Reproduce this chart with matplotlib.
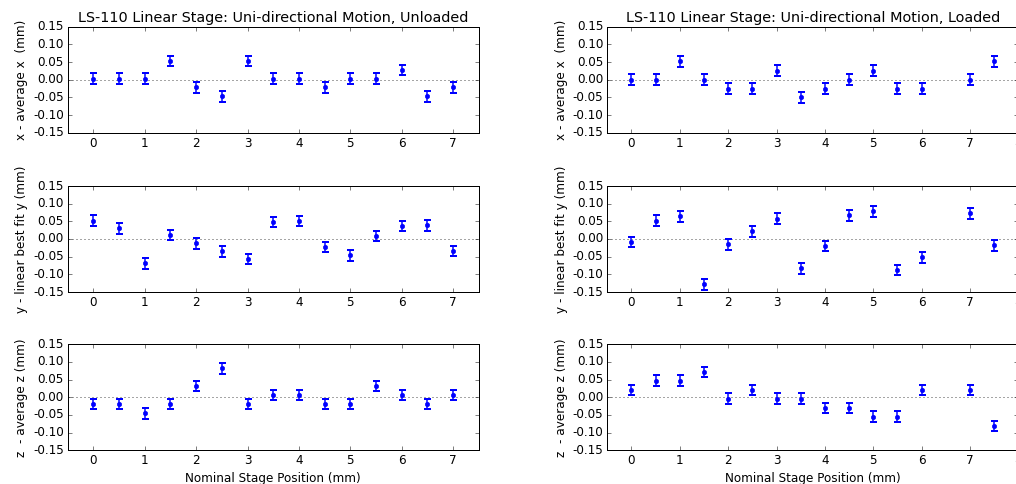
import matplotlib
matplotlib.use("Agg")
import matplotlib.pyplot as plt
import numpy as np

plt.style.use('classic')
plt.rcParams['figure.facecolor'] = 'white'
plt.rcParams['savefig.facecolor'] = 'white'
plt.rcParams['font.family'] = ['DejaVu Sans']

# Positions (mm)
pos_unloaded = [0, 0.5, 1, 1.5, 2, 2.5, 3, 3.5, 4, 4.5, 5, 5.5, 6, 6.5, 7]
pos_loaded = [0, 0.5, 1, 1.5, 2, 2.5, 3, 3.5, 4, 4.5, 5, 5.5, 6, 7, 7.5]

# Unloaded residuals (mm)
x_unloaded = [0.003, 0.003, 0.003, 0.053, -0.022, -0.047, 0.053, 0.003, 0.003,
              -0.022, 0.003, 0.003, 0.028, -0.047, -0.022]
y_unloaded = [0.052, 0.030, -0.069, 0.011, -0.012, -0.035, -0.057, 0.048, 0.051,
              -0.023, -0.046, 0.008, 0.037, 0.039, -0.034]
z_unloaded = [-0.019, -0.019, -0.045, -0.019, 0.032, 0.082, -0.019, 0.006, 0.006,
              -0.019, -0.019, 0.032, 0.006, -0.019, 0.006]

# Loaded residuals (mm)
x_loaded = [0.0, 0.0, 0.052, 0.0, -0.025, -0.025, 0.026, -0.050, -0.025,
            0.0, 0.026, -0.025, -0.025, 0.0, 0.052]
y_loaded = [-0.009, 0.052, 0.064, -0.128, -0.015, 0.022, 0.058, -0.083, -0.020,
            0.067, 0.078, -0.088, -0.052, 0.073, -0.018]
z_loaded = [0.021, 0.047, 0.047, 0.072, -0.004, 0.021, -0.004, -0.004, -0.030,
            -0.030, -0.055, -0.055, 0.021, 0.021, -0.081]

err = 0.015

titles = ["LS-110 Linear Stage: Uni-directional Motion, Unloaded",
          "LS-110 Linear Stage: Uni-directional Motion, Loaded"]
ylabels = ["x - average x  (mm)", "y - linear best fit y (mm)", "z  - average z (mm)"]
xlabel = "Nominal Stage Position (mm)"
yticks = [-0.15, -0.10, -0.05, 0.00, 0.05, 0.10, 0.15]

W, H = 1016, 484
fig = plt.figure(figsize=(W / 72, H / 72), dpi=72)

lefts = [67.7 / W, 607.3 / W]
width = 411 / W
tops = [26.7, 186.0, 344.3]
height = 106.0 / H

cols = [
    (pos_unloaded, [x_unloaded, y_unloaded, z_unloaded], (-0.5, 7.5), range(0, 8)),
    (pos_loaded, [x_loaded, y_loaded, z_loaded], (-0.5, 8.0), range(0, 9)),
]

for c, (xs, series, xlim, xt) in enumerate(cols):
    for r in range(3):
        bottom = (H - tops[r]) / H - height
        ax = fig.add_axes([lefts[c], bottom, width, height])
        ax.axhline(0, color='0.3', linestyle=':', linewidth=1)
        ax.errorbar(xs, series[r], yerr=err, fmt='o', color='b', ecolor='b',
                    markersize=4.5, markeredgecolor='b', capsize=3.5, capthick=2,
                    elinewidth=1.5)
        ax.set_xlim(*xlim)
        ax.set_ylim(-0.15, 0.15)
        ax.set_xticks(list(xt))
        ax.set_yticks(yticks)
        ax.yaxis.set_major_formatter(matplotlib.ticker.FormatStrFormatter('%.2f'))
        ax.set_ylabel(ylabels[r], fontsize=12)
        ax.tick_params(labelsize=12)
        if r == 0:
            ax.set_title(titles[c], fontsize=14.4)
        if r == 2:
            ax.set_xlabel(xlabel, fontsize=12)

fig.savefig("out.png", dpi=72)
